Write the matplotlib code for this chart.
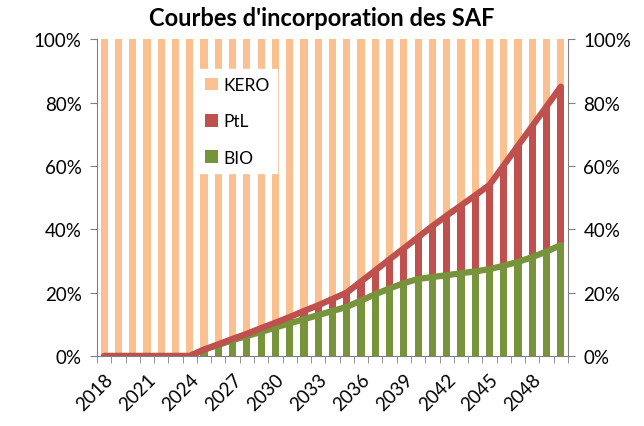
import numpy as np
import matplotlib.pyplot as plt
from matplotlib.ticker import FixedLocator, PercentFormatter

years = list(range(2018, 2051))

# part BIO (%)
bio = [0, 0, 0, 0, 0, 0, 0,
       2.0, 3.5, 5.0, 6.3, 7.6, 9.0, 10.3, 11.6, 12.9, 14.2, 15.5,
       17.5, 19.5, 21.3, 23.0, 24.3,
       24.9, 25.5, 26.1, 26.7, 27.4,
       28.5, 29.7, 31.2, 33.0, 35.0]

# total SAF (BIO + PtL) en %
total = [0, 0, 0, 0, 0, 0, 0,
         2.0, 3.7, 5.4, 7.0, 8.8, 10.5, 12.3, 14.2, 16.0, 18.0, 20.0,
         23.5, 27.0, 30.5, 34.0, 37.5,
         41.0, 44.3, 47.5, 50.7, 54.0,
         60.2, 66.4, 72.6, 78.8, 85.0]

bio = np.array(bio)
total = np.array(total)
ptl = total - bio
kero = 100 - total

c_kero = '#FAC090'
c_ptl = '#C0504D'
c_bio = '#77933C'

plt.rcParams['font.family'] = ['Lato', 'DejaVu Sans']

fig = plt.figure(figsize=(6.44, 4.27), dpi=100)
ax = fig.add_axes([0.1506, 0.164, 0.7314, 0.742])

x = np.arange(len(years))
w = 0.5
ax.bar(x, bio, w, color=c_bio, label='BIO', zorder=2)
ax.bar(x, ptl, w, bottom=bio, color=c_ptl, label='PtL', zorder=2)
ax.bar(x, kero, w, bottom=total, color=c_kero, label='KERO', zorder=2)

ax.plot(x, bio, color=c_bio, lw=4.5, solid_capstyle='round', zorder=3)
ax.plot(x, total, color=c_ptl, lw=4.5, solid_capstyle='round', zorder=4)

ax.set_xlim(-0.5, len(years) - 0.5)
ax.set_ylim(0, 100)

ax.yaxis.set_major_locator(FixedLocator([0, 20, 40, 60, 80, 100]))
ax.yaxis.set_major_formatter(PercentFormatter(decimals=0))
ax.tick_params(axis='y', which='both', labelsize=13.5, colors='#808080',
               labelcolor='black', length=5, direction='out',
               right=True, labelright=True, pad=6)

ax.set_xticks(x[::3])
ax.set_xticklabels([str(y) for y in years[::3]], rotation=45, ha='right',
                   rotation_mode='anchor', fontsize=13.5)
ax.xaxis.set_minor_locator(FixedLocator(np.arange(-0.5, len(years), 1)))
ax.tick_params(axis='x', which='major', length=0, pad=10)
ax.tick_params(axis='x', which='minor', length=5, color='#808080')

ax.spines['top'].set_visible(False)
for s in ['left', 'right', 'bottom']:
    ax.spines[s].set_color('#808080')

fig.text(0.5, 1 - 19 / 427, "Courbes d'incorporation des SAF",
         fontsize=17, fontweight='bold', ha='center', va='center')

h, l = ax.get_legend_handles_labels()
leg = ax.legend(h[::-1], l[::-1], loc='upper left', bbox_to_anchor=(0.212, 0.905),
                frameon=True, fancybox=False, edgecolor='white', framealpha=1,
                fontsize=12.5, handlelength=0.75, handleheight=0.75,
                labelspacing=1.17, handletextpad=0.3, borderpad=0.45,
                borderaxespad=0)
leg.set_zorder(5)

fig.savefig('out.png', dpi=100)
